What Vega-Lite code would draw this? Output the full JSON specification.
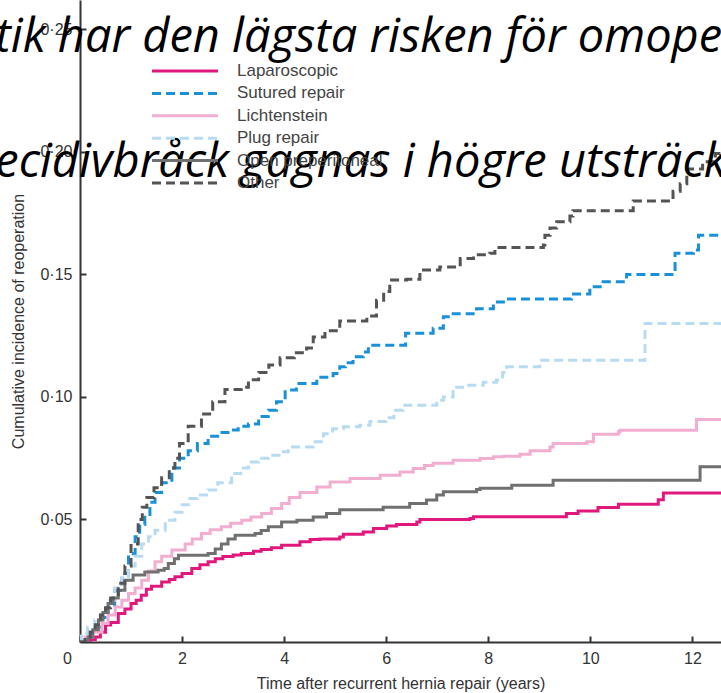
{
 "$schema": "https://vega.github.io/schema/vega-lite/v6.json",
 "width": 641,
 "height": 642,
 "autosize": {"type": "none"},
 "padding": {"left": 80, "top": 0, "right": 0, "bottom": 51},
 "background": "white",
 "config": {"view": {"stroke": null}, "font": "Liberation Sans"},
 "datasets": {
  "curves": [
   {"m":"Laparoscopic","t":0,"v":0},{"m":"Laparoscopic","t":0.2,"v":0.001},{"m":"Laparoscopic","t":0.3,"v":0.002},{"m":"Laparoscopic","t":0.4,"v":0.004},{"m":"Laparoscopic","t":0.5,"v":0.0069},{"m":"Laparoscopic","t":0.6,"v":0.008},{"m":"Laparoscopic","t":0.75,"v":0.0116},{"m":"Laparoscopic","t":0.88,"v":0.0135},{"m":"Laparoscopic","t":1.0,"v":0.0157},{"m":"Laparoscopic","t":1.1,"v":0.017},{"m":"Laparoscopic","t":1.2,"v":0.0191},{"m":"Laparoscopic","t":1.3,"v":0.0215},{"m":"Laparoscopic","t":1.4,"v":0.0228},{"m":"Laparoscopic","t":1.6,"v":0.0245},{"m":"Laparoscopic","t":1.75,"v":0.0255},{"m":"Laparoscopic","t":1.86,"v":0.0266},{"m":"Laparoscopic","t":2.0,"v":0.028},{"m":"Laparoscopic","t":2.19,"v":0.03},{"m":"Laparoscopic","t":2.35,"v":0.0315},{"m":"Laparoscopic","t":2.51,"v":0.0327},{"m":"Laparoscopic","t":2.65,"v":0.034},{"m":"Laparoscopic","t":2.8,"v":0.0349},{"m":"Laparoscopic","t":3.0,"v":0.0355},{"m":"Laparoscopic","t":3.16,"v":0.0361},{"m":"Laparoscopic","t":3.4,"v":0.037},{"m":"Laparoscopic","t":3.55,"v":0.0378},{"m":"Laparoscopic","t":3.75,"v":0.0385},{"m":"Laparoscopic","t":3.95,"v":0.0395},{"m":"Laparoscopic","t":4.31,"v":0.0409},{"m":"Laparoscopic","t":4.51,"v":0.0418},{"m":"Laparoscopic","t":4.7,"v":0.042},{"m":"Laparoscopic","t":5.09,"v":0.0429},{"m":"Laparoscopic","t":5.16,"v":0.044},{"m":"Laparoscopic","t":5.55,"v":0.0449},{"m":"Laparoscopic","t":5.75,"v":0.0463},{"m":"Laparoscopic","t":6.01,"v":0.0473},{"m":"Laparoscopic","t":6.2,"v":0.048},{"m":"Laparoscopic","t":6.6,"v":0.049},{"m":"Laparoscopic","t":6.66,"v":0.05},{"m":"Laparoscopic","t":7.64,"v":0.0504},{"m":"Laparoscopic","t":7.71,"v":0.0511},{"m":"Laparoscopic","t":9.53,"v":0.0524},{"m":"Laparoscopic","t":9.76,"v":0.0535},{"m":"Laparoscopic","t":10.15,"v":0.0549},{"m":"Laparoscopic","t":10.55,"v":0.0562},{"m":"Laparoscopic","t":11.33,"v":0.0581},{"m":"Laparoscopic","t":11.43,"v":0.0608},{"m":"Laparoscopic","t":12.7,"v":0.0608},
   {"m":"Sutured repair","t":0,"v":0},{"m":"Sutured repair","t":0.1,"v":0.002},{"m":"Sutured repair","t":0.2,"v":0.004},{"m":"Sutured repair","t":0.29,"v":0.006},{"m":"Sutured repair","t":0.42,"v":0.01},{"m":"Sutured repair","t":0.55,"v":0.014},{"m":"Sutured repair","t":0.68,"v":0.021},{"m":"Sutured repair","t":0.82,"v":0.028},{"m":"Sutured repair","t":0.95,"v":0.036},{"m":"Sutured repair","t":1.08,"v":0.043},{"m":"Sutured repair","t":1.17,"v":0.048},{"m":"Sutured repair","t":1.27,"v":0.052},{"m":"Sutured repair","t":1.37,"v":0.057},{"m":"Sutured repair","t":1.47,"v":0.061},{"m":"Sutured repair","t":1.6,"v":0.065},{"m":"Sutured repair","t":1.8,"v":0.071},{"m":"Sutured repair","t":1.95,"v":0.075},{"m":"Sutured repair","t":2.12,"v":0.078},{"m":"Sutured repair","t":2.3,"v":0.081},{"m":"Sutured repair","t":2.51,"v":0.084},{"m":"Sutured repair","t":2.75,"v":0.0855},{"m":"Sutured repair","t":2.97,"v":0.0865},{"m":"Sutured repair","t":3.1,"v":0.088},{"m":"Sutured repair","t":3.3,"v":0.089},{"m":"Sutured repair","t":3.5,"v":0.092},{"m":"Sutured repair","t":3.69,"v":0.0946},{"m":"Sutured repair","t":3.85,"v":0.098},{"m":"Sutured repair","t":4.02,"v":0.1028},{"m":"Sutured repair","t":4.24,"v":0.1055},{"m":"Sutured repair","t":4.64,"v":0.108},{"m":"Sutured repair","t":4.96,"v":0.1096},{"m":"Sutured repair","t":5.09,"v":0.1123},{"m":"Sutured repair","t":5.2,"v":0.114},{"m":"Sutured repair","t":5.35,"v":0.1164},{"m":"Sutured repair","t":5.55,"v":0.1184},{"m":"Sutured repair","t":5.65,"v":0.1211},{"m":"Sutured repair","t":6.38,"v":0.126},{"m":"Sutured repair","t":6.92,"v":0.128},{"m":"Sutured repair","t":7.12,"v":0.1327},{"m":"Sutured repair","t":7.25,"v":0.134},{"m":"Sutured repair","t":7.77,"v":0.136},{"m":"Sutured repair","t":8.1,"v":0.1388},{"m":"Sutured repair","t":8.33,"v":0.14},{"m":"Sutured repair","t":9.63,"v":0.142},{"m":"Sutured repair","t":9.99,"v":0.145},{"m":"Sutured repair","t":10.25,"v":0.147},{"m":"Sutured repair","t":10.71,"v":0.15},{"m":"Sutured repair","t":11.66,"v":0.1586},{"m":"Sutured repair","t":12.02,"v":0.16},{"m":"Sutured repair","t":12.12,"v":0.166},{"m":"Sutured repair","t":12.7,"v":0.166},
   {"m":"Lichtenstein","t":0,"v":0},{"m":"Lichtenstein","t":0.1,"v":0.002},{"m":"Lichtenstein","t":0.25,"v":0.004},{"m":"Lichtenstein","t":0.43,"v":0.0075},{"m":"Lichtenstein","t":0.55,"v":0.011},{"m":"Lichtenstein","t":0.69,"v":0.0143},{"m":"Lichtenstein","t":0.82,"v":0.017},{"m":"Lichtenstein","t":0.95,"v":0.0198},{"m":"Lichtenstein","t":1.08,"v":0.022},{"m":"Lichtenstein","t":1.21,"v":0.0252},{"m":"Lichtenstein","t":1.34,"v":0.029},{"m":"Lichtenstein","t":1.47,"v":0.0327},{"m":"Lichtenstein","t":1.6,"v":0.035},{"m":"Lichtenstein","t":1.8,"v":0.0375},{"m":"Lichtenstein","t":2.06,"v":0.04},{"m":"Lichtenstein","t":2.2,"v":0.042},{"m":"Lichtenstein","t":2.38,"v":0.0443},{"m":"Lichtenstein","t":2.55,"v":0.0458},{"m":"Lichtenstein","t":2.77,"v":0.047},{"m":"Lichtenstein","t":2.95,"v":0.0485},{"m":"Lichtenstein","t":3.17,"v":0.0497},{"m":"Lichtenstein","t":3.35,"v":0.051},{"m":"Lichtenstein","t":3.56,"v":0.0524},{"m":"Lichtenstein","t":3.75,"v":0.0545},{"m":"Lichtenstein","t":3.95,"v":0.0565},{"m":"Lichtenstein","t":4.1,"v":0.059},{"m":"Lichtenstein","t":4.31,"v":0.061},{"m":"Lichtenstein","t":4.64,"v":0.0633},{"m":"Lichtenstein","t":4.9,"v":0.0653},{"m":"Lichtenstein","t":5.29,"v":0.0667},{"m":"Lichtenstein","t":5.88,"v":0.068},{"m":"Lichtenstein","t":6.27,"v":0.0694},{"m":"Lichtenstein","t":6.53,"v":0.0708},{"m":"Lichtenstein","t":6.75,"v":0.072},{"m":"Lichtenstein","t":6.92,"v":0.0729},{"m":"Lichtenstein","t":7.31,"v":0.0742},{"m":"Lichtenstein","t":7.84,"v":0.0749},{"m":"Lichtenstein","t":8.1,"v":0.0756},{"m":"Lichtenstein","t":8.3,"v":0.0758},{"m":"Lichtenstein","t":8.62,"v":0.0766},{"m":"Lichtenstein","t":8.82,"v":0.078},{"m":"Lichtenstein","t":9.21,"v":0.0796},{"m":"Lichtenstein","t":9.27,"v":0.081},{"m":"Lichtenstein","t":9.93,"v":0.0817},{"m":"Lichtenstein","t":10.06,"v":0.0848},{"m":"Lichtenstein","t":10.55,"v":0.0858},{"m":"Lichtenstein","t":10.58,"v":0.0864},{"m":"Lichtenstein","t":12.08,"v":0.0908},{"m":"Lichtenstein","t":12.7,"v":0.0908},
   {"m":"Plug repair","t":0,"v":0},{"m":"Plug repair","t":0.03,"v":0.0035},{"m":"Plug repair","t":0.15,"v":0.006},{"m":"Plug repair","t":0.29,"v":0.009},{"m":"Plug repair","t":0.42,"v":0.013},{"m":"Plug repair","t":0.55,"v":0.017},{"m":"Plug repair","t":0.68,"v":0.022},{"m":"Plug repair","t":0.82,"v":0.0266},{"m":"Plug repair","t":0.95,"v":0.031},{"m":"Plug repair","t":1.08,"v":0.035},{"m":"Plug repair","t":1.21,"v":0.04},{"m":"Plug repair","t":1.34,"v":0.043},{"m":"Plug repair","t":1.47,"v":0.0456},{"m":"Plug repair","t":1.67,"v":0.0497},{"m":"Plug repair","t":1.86,"v":0.053},{"m":"Plug repair","t":2.0,"v":0.056},{"m":"Plug repair","t":2.12,"v":0.0586},{"m":"Plug repair","t":2.3,"v":0.06},{"m":"Plug repair","t":2.51,"v":0.062},{"m":"Plug repair","t":2.7,"v":0.065},{"m":"Plug repair","t":2.97,"v":0.0688},{"m":"Plug repair","t":3.15,"v":0.071},{"m":"Plug repair","t":3.3,"v":0.0735},{"m":"Plug repair","t":3.5,"v":0.075},{"m":"Plug repair","t":3.69,"v":0.0762},{"m":"Plug repair","t":3.9,"v":0.0776},{"m":"Plug repair","t":4.08,"v":0.0796},{"m":"Plug repair","t":4.57,"v":0.0817},{"m":"Plug repair","t":4.77,"v":0.085},{"m":"Plug repair","t":4.95,"v":0.087},{"m":"Plug repair","t":5.16,"v":0.0878},{"m":"Plug repair","t":5.48,"v":0.0885},{"m":"Plug repair","t":5.68,"v":0.09},{"m":"Plug repair","t":6.0,"v":0.0915},{"m":"Plug repair","t":6.15,"v":0.0946},{"m":"Plug repair","t":6.33,"v":0.0966},{"m":"Plug repair","t":6.99,"v":0.0987},{"m":"Plug repair","t":7.12,"v":0.1},{"m":"Plug repair","t":7.31,"v":0.104},{"m":"Plug repair","t":7.57,"v":0.1048},{"m":"Plug repair","t":7.9,"v":0.106},{"m":"Plug repair","t":8.16,"v":0.1069},{"m":"Plug repair","t":8.28,"v":0.11},{"m":"Plug repair","t":8.36,"v":0.1123},{"m":"Plug repair","t":9.01,"v":0.115},{"m":"Plug repair","t":11.07,"v":0.13},{"m":"Plug repair","t":12.7,"v":0.13},
   {"m":"Open preperitoneal","t":0,"v":0},{"m":"Open preperitoneal","t":0.16,"v":0.002},{"m":"Open preperitoneal","t":0.25,"v":0.005},{"m":"Open preperitoneal","t":0.36,"v":0.009},{"m":"Open preperitoneal","t":0.45,"v":0.012},{"m":"Open preperitoneal","t":0.55,"v":0.0157},{"m":"Open preperitoneal","t":0.65,"v":0.018},{"m":"Open preperitoneal","t":0.75,"v":0.0211},{"m":"Open preperitoneal","t":0.88,"v":0.0252},{"m":"Open preperitoneal","t":1.04,"v":0.0273},{"m":"Open preperitoneal","t":1.27,"v":0.0286},{"m":"Open preperitoneal","t":1.53,"v":0.0293},{"m":"Open preperitoneal","t":1.65,"v":0.03},{"m":"Open preperitoneal","t":1.73,"v":0.032},{"m":"Open preperitoneal","t":1.85,"v":0.034},{"m":"Open preperitoneal","t":1.93,"v":0.0354},{"m":"Open preperitoneal","t":2.51,"v":0.0361},{"m":"Open preperitoneal","t":2.65,"v":0.038},{"m":"Open preperitoneal","t":2.77,"v":0.04},{"m":"Open preperitoneal","t":2.9,"v":0.042},{"m":"Open preperitoneal","t":3.04,"v":0.0436},{"m":"Open preperitoneal","t":3.43,"v":0.0443},{"m":"Open preperitoneal","t":3.55,"v":0.0455},{"m":"Open preperitoneal","t":3.69,"v":0.047},{"m":"Open preperitoneal","t":3.95,"v":0.049},{"m":"Open preperitoneal","t":4.25,"v":0.0497},{"m":"Open preperitoneal","t":4.57,"v":0.051},{"m":"Open preperitoneal","t":4.83,"v":0.0524},{"m":"Open preperitoneal","t":5.09,"v":0.054},{"m":"Open preperitoneal","t":5.94,"v":0.055},{"m":"Open preperitoneal","t":6.46,"v":0.0565},{"m":"Open preperitoneal","t":6.79,"v":0.0579},{"m":"Open preperitoneal","t":6.99,"v":0.06},{"m":"Open preperitoneal","t":7.12,"v":0.0613},{"m":"Open preperitoneal","t":7.77,"v":0.0622},{"m":"Open preperitoneal","t":7.84,"v":0.0627},{"m":"Open preperitoneal","t":8.46,"v":0.064},{"m":"Open preperitoneal","t":9.27,"v":0.066},{"m":"Open preperitoneal","t":12.15,"v":0.0715},{"m":"Open preperitoneal","t":12.7,"v":0.0715},
   {"m":"Other","t":0,"v":0},{"m":"Other","t":0.1,"v":0.002},{"m":"Other","t":0.2,"v":0.004},{"m":"Other","t":0.3,"v":0.007},{"m":"Other","t":0.4,"v":0.011},{"m":"Other","t":0.5,"v":0.014},{"m":"Other","t":0.6,"v":0.018},{"m":"Other","t":0.75,"v":0.024},{"m":"Other","t":0.88,"v":0.031},{"m":"Other","t":1.0,"v":0.04},{"m":"Other","t":1.14,"v":0.05},{"m":"Other","t":1.22,"v":0.055},{"m":"Other","t":1.31,"v":0.059},{"m":"Other","t":1.45,"v":0.063},{"m":"Other","t":1.6,"v":0.067},{"m":"Other","t":1.75,"v":0.071},{"m":"Other","t":1.86,"v":0.075},{"m":"Other","t":1.95,"v":0.081},{"m":"Other","t":2.12,"v":0.088},{"m":"Other","t":2.38,"v":0.093},{"m":"Other","t":2.6,"v":0.098},{"m":"Other","t":2.84,"v":0.103},{"m":"Other","t":3.16,"v":0.104},{"m":"Other","t":3.3,"v":0.107},{"m":"Other","t":3.5,"v":0.11},{"m":"Other","t":3.7,"v":0.113},{"m":"Other","t":3.92,"v":0.116},{"m":"Other","t":4.2,"v":0.118},{"m":"Other","t":4.44,"v":0.12},{"m":"Other","t":4.57,"v":0.1245},{"m":"Other","t":4.8,"v":0.127},{"m":"Other","t":5.09,"v":0.131},{"m":"Other","t":5.62,"v":0.133},{"m":"Other","t":5.81,"v":0.1395},{"m":"Other","t":5.95,"v":0.143},{"m":"Other","t":6.07,"v":0.1477},{"m":"Other","t":6.4,"v":0.148},{"m":"Other","t":6.66,"v":0.1518},{"m":"Other","t":7.05,"v":0.153},{"m":"Other","t":7.45,"v":0.1565},{"m":"Other","t":7.71,"v":0.158},{"m":"Other","t":8.03,"v":0.1586},{"m":"Other","t":8.13,"v":0.161},{"m":"Other","t":9.08,"v":0.162},{"m":"Other","t":9.11,"v":0.166},{"m":"Other","t":9.21,"v":0.169},{"m":"Other","t":9.34,"v":0.1715},{"m":"Other","t":9.6,"v":0.1738},{"m":"Other","t":9.66,"v":0.176},{"m":"Other","t":10.84,"v":0.18},{"m":"Other","t":11.62,"v":0.184},{"m":"Other","t":11.76,"v":0.187},{"m":"Other","t":11.89,"v":0.193},{"m":"Other","t":12.2,"v":0.196},{"m":"Other","t":12.45,"v":0.1994},{"m":"Other","t":12.7,"v":0.1994}
  ]
 },
 "layer": [
  {
   "data": {"name": "curves"},
   "mark": {"type": "line", "interpolate": "step-after", "clip": true, "strokeWidth": 3},
   "encoding": {
    "x": {"field": "t", "type": "quantitative",
     "scale": {"domain": [0, 12.56], "nice": false, "zero": false},
     "axis": {"values": [0, 2, 4, 6, 8, 10, 12], "title": "Time after recurrent hernia repair (years)",
      "titleFontSize": 16, "titleFontWeight": "normal", "titleColor": "#333", "titlePadding": 9,
      "labelFontSize": 16, "labelColor": "#333", "labelPadding": 14, "labelFlush": false,
      "labelOffset": {"condition": {"test": "datum.value === 0", "value": -13}, "value": 0},
      "tickSize": -6, "tickWidth": 2, "tickColor": "#333", "domainColor": "#333", "domainWidth": 2, "grid": false}},
    "y": {"field": "v", "type": "quantitative",
     "scale": {"domain": [0, 0.262], "nice": false},
     "axis": {"values": [0.05, 0.1, 0.15, 0.2, 0.25], "title": "Cumulative incidence of reoperation",
      "labelExpr": "replace(format(datum.value, '.2f'), '.', '·')",
      "titleFontSize": 16, "titleFontWeight": "normal", "titleColor": "#333", "titlePadding": 13,
      "labelFontSize": 16, "labelColor": "#333", "labelPadding": 14, "labelFlush": false,
      "tickSize": -6, "tickWidth": 2, "tickColor": "#333", "domainColor": "#333", "domainWidth": 2, "grid": false}},
    "color": {"field": "m", "type": "nominal",
     "scale": {"domain": ["Laparoscopic", "Sutured repair", "Lichtenstein", "Plug repair", "Open preperitoneal", "Other"],
      "range": ["#e0177d", "#1a90d9", "#f2aed0", "#b8dbf4", "#707070", "#545454"]},
     "legend": {"title": null, "orient": "none", "legendX": 95, "legendY": 61, "padding": 0,
      "symbolType": "M-4,0H4", "symbolSize": 272, "symbolStrokeWidth": 3,
      "labelFontSize": 17, "labelColor": "#444", "labelOffset": 42, "rowPadding": 4.4}},
    "strokeDash": {"field": "m", "type": "nominal",
     "scale": {"domain": ["Laparoscopic", "Sutured repair", "Lichtenstein", "Plug repair", "Open preperitoneal", "Other"],
      "range": [[1, 0], [9, 5], [1, 0], [9, 5], [1, 0], [9, 5]]}}
   }
  },
  {
   "data": {"values": [{}]},
   "mark": {"type": "text", "align": "left", "baseline": "alphabetic", "font": "Open Sans", "fontStyle": "italic",
    "fontSize": 47, "lineHeight": 125, "color": "black",
    "text": ["tik har den lägsta risken för omoperation", "ecidivbråck gagnas i högre utsträckning"]},
   "encoding": {"x": {"datum": -1.66, "type": "quantitative"}, "y": {"datum": 0.2407, "type": "quantitative"}}
  }
 ]
}
